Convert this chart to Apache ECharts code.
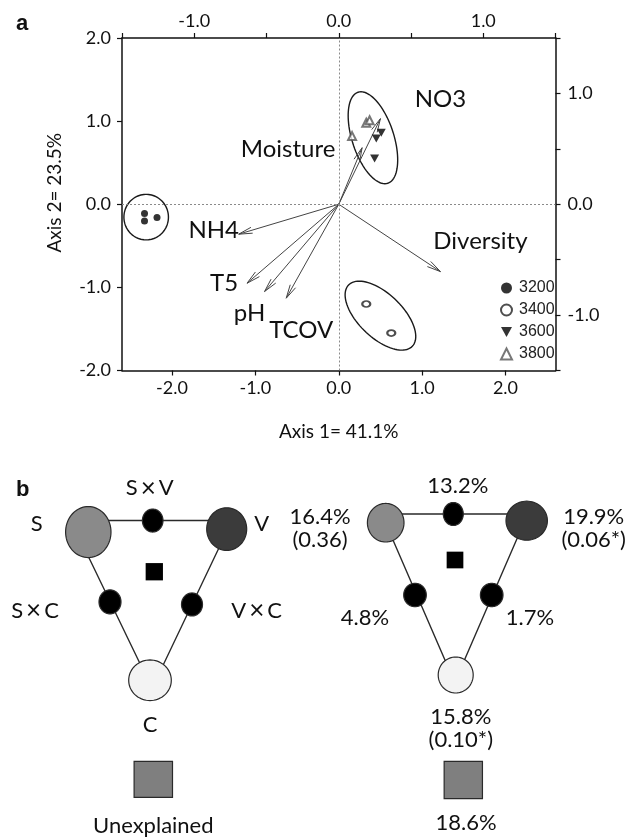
<!DOCTYPE html>
<html><head><meta charset="utf-8">
<script src="https://cdn.jsdelivr.net/npm/echarts@6/dist/echarts.min.js"></script>
<style>html,body{margin:0;padding:0;background:#fff}#c{width:635px;height:838px}</style>
</head><body><div id="c"></div>
<script>
// ---------------- data: panel a ----------------
const siteNames = ['3200', '3400', '3600', '3800'];
const pts3200 = [[-2.33, -0.11], [-2.33, -0.20], [-2.18, -0.16]];
const pts3400 = [[0.33, -1.20], [0.63, -1.55]];
const pts3600 = [[0.51, 0.86], [0.45, 0.79], [0.43, 0.55]];
const pts3800 = [[0.16, 0.82], [0.33, 0.98], [0.37, 1.01]];
const vectorNames = ['NO3', 'Moisture', 'NH4', 'T5', 'pH', 'TCOV', 'Diversity'];
const vectorEnds = [[0.50, 1.03], [0.28, 0.68], [-1.20, -0.36], [-1.10, -0.95], [-0.89, -1.05], [-0.63, -1.13], [1.22, -0.81]];
const ellipseCenters = [[-2.31, -0.155], [0.41, 0.80], [0.50, -1.34]];
const ellipseSemiAxes = [[0.267, 0.274], [0.576, 0.25], [0.531, 0.264]];
const ellipseAngles = [0, 108, -44];
const axis1Ticks = [-2, -1, 0, 1, 2];
const axis1Title = 'Axis 1= 41.1%';
const axis2Title = 'Axis 2= 23.5%';

// ---------------- data: panel b ----------------
const componentNames = ['S', 'V', 'C'];
const interactionNames = [['S', 'V'], ['S', 'C'], ['V', 'C']];
const componentPct = ['16.4%', '19.9%', '15.8%'];
const componentP = ['(0.36)', '(0.06*)', '(0.10*)'];
const interactionPct = ['13.2%', '4.8%', '1.7%'];
const unexplainedName = 'Unexplained';
const unexplainedPct = '18.6%';

// ---------------- layout / style (not data) ----------------
const FONT = 'Lato, "Open Sans", sans-serif';
const vectorLabelOffsets = [[60, -19], [-74, 2], [-25, -4], [-23, 0], [-15, 22], [15, 32], [40, -30]];
const diagramLayouts = [
  { // left (names)
    tri: [[-82, 0], [79, 0], [-1, 169.3]],
    big: [[-64.7, 11.6, 22.7, 25.5], [73.7, 8.6, 20, 21.3], [-3, 161, 21.3, 20.3]],
    dots: [[-0.3, 0, 10.3, 11.5], [-43, 82, 11, 12], [39, 84.6, 10.5, 11.5]],
    sq: [1.3, 51.6, 17.3],
    un: [0.3, 261, 38.4, 36],
    compLab: [[-116.3, 3.3], [108.7, 3.3], [-3, 206]],
    interLab: [[-3.2, -32.4], [-118, 91], [103.7, 91]],
    unLab: [0.3, 307.6]
  },
  { // right (values)
    tri: [[-73.3, 0], [72.7, 0], [-0.3, 168.6]],
    big: [[-69.3, 8.7, 18.3, 19.3], [71.7, 6.7, 20.7, 19.5], [0.7, 161, 17.5, 18]],
    dots: [[-1.7, 0, 10, 11.5], [-40, 81, 11.3, 11.7], [36.7, 81, 11.3, 11.7]],
    sq: [0, 46, 16.7],
    un: [8.3, 266, 38.3, 37.3],
    compLab: [[-135, 14], [138.7, 14], [5.8, 214.7]],
    interLab: [[2.9, -28], [-90, 104.3], [75, 104.3]],
    unLab: [11, 308.7]
  }
];
const bigFills = ['#8a8a8a', '#3b3b3b', '#f3f3f3'];

function ellipsePoly(cx, cy, rx, ry, n) {
  const pts = [];
  for (let k = 0; k < n; k++) {
    const t = 2 * Math.PI * k / n;
    pts.push([cx + rx * Math.cos(t), cy + ry * Math.sin(t)]);
  }
  return pts;
}

function renderEllipse(params, api) {
  const cx = api.value(0), cy = api.value(1), a = api.value(2), b = api.value(3);
  const ang = api.value(4) * Math.PI / 180;
  const pts = [];
  for (let k = 0; k < 90; k++) {
    const t = 2 * Math.PI * k / 90;
    const ex = a * Math.cos(t), ey = b * Math.sin(t);
    pts.push(api.coord([cx + ex * Math.cos(ang) - ey * Math.sin(ang), cy + ex * Math.sin(ang) + ey * Math.cos(ang)]));
  }
  return { type: 'polygon', shape: { points: pts }, style: { fill: null, stroke: '#1a1a1a', lineWidth: 1.4 } };
}

function renderArrow(params, api) {
  const i = params.dataIndex;
  const o = api.coord([0, 0]);
  const t = api.coord([api.value(0), api.value(1)]);
  const ang = Math.atan2(t[1] - o[1], t[0] - o[0]);
  const L = 14, h = 0.22;
  const p1 = [t[0] - L * Math.cos(ang - h), t[1] - L * Math.sin(ang - h)];
  const p2 = [t[0] - L * Math.cos(ang + h), t[1] - L * Math.sin(ang + h)];
  const off = vectorLabelOffsets[i];
  return {
    type: 'group', children: [
      { type: 'line', shape: { x1: o[0], y1: o[1], x2: t[0], y2: t[1] }, style: { stroke: '#444', lineWidth: 1 } },
      { type: 'polyline', shape: { points: [p1, t, p2] }, style: { stroke: '#444', lineWidth: 1, fill: null } },
      { type: 'text', x: t[0] + off[0], y: t[1] + off[1], style: { text: vectorNames[i], fontFamily: FONT, fontSize: 24, fill: '#111', align: 'center', verticalAlign: 'middle' } }
    ]
  };
}

function diagramRenderer(idx) {
  const L = diagramLayouts[idx];
  return function (params, api) {
    const C = p => api.coord(p);
    const ch = [];
    ch.push({ type: 'polygon', shape: { points: L.tri.map(C) }, style: { fill: null, stroke: '#2a2a2a', lineWidth: 1.4 } });
    const ellipse = (e, fill) => {
      const c = C([e[0], e[1]]);
      return { type: 'polygon', shape: { points: ellipsePoly(c[0], c[1], e[2], e[3], 72) }, style: { fill: fill, stroke: '#2a2a2a', lineWidth: 1.2 } };
    };
    L.big.forEach((e, k) => ch.push(ellipse(e, bigFills[k])));
    L.dots.forEach(e => ch.push(ellipse(e, '#000')));
    const sc = C([L.sq[0], L.sq[1]]);
    ch.push({ type: 'rect', shape: { x: sc[0] - L.sq[2] / 2, y: sc[1] - L.sq[2] / 2, width: L.sq[2], height: L.sq[2] }, style: { fill: '#000' } });
    const uc = C([L.un[0], L.un[1]]);
    ch.push({ type: 'rect', shape: { x: uc[0] - L.un[2] / 2, y: uc[1] - L.un[3] / 2, width: L.un[2], height: L.un[3] }, style: { fill: '#7f7f7f', stroke: '#2a2a2a', lineWidth: 1.2 } });
    const txt = (pos, s, rich) => {
      const c = C(pos);
      const st = { text: s, fontFamily: FONT, fontSize: 22, fill: '#111', align: 'center', verticalAlign: 'middle', lineHeight: 23 };
      if (rich) st.rich = rich;
      return { type: 'text', x: c[0], y: c[1], style: st };
    };
    const richX = { t: { fontFamily: FONT, fontSize: 22, fill: '#111' }, m: { fontFamily: FONT, fontSize: 26, fill: '#111', padding: [0, 3] } };
    if (idx === 0) {
      componentNames.forEach((n, k) => ch.push(txt(L.compLab[k], n)));
      interactionNames.forEach((n, k) => ch.push(txt(L.interLab[k], '{t|' + n[0] + '}{m|×}{t|' + n[1] + '}', richX)));
      ch.push(txt(L.unLab, unexplainedName));
    } else {
      componentPct.forEach((n, k) => ch.push(txt(L.compLab[k], n + '\n' + componentP[k])));
      interactionPct.forEach((n, k) => ch.push(txt(L.interLab[k], n)));
      ch.push(txt(L.unLab, unexplainedPct));
    }
    return { type: 'group', children: ch };
  };
}

const axisLineStyle = { show: true, onZero: false, lineStyle: { color: '#111', width: 1.5 } };
const tickStyle = { show: true, inside: false, length: 5, lineStyle: { color: '#111', width: 1.2 } };
const labelBase = { fontFamily: FONT, fontSize: 18, color: '#111' };
const halfLabel = v => (Math.abs(v - Math.round(v)) < 1e-9 ? v.toFixed(1) : '');

const chart = echarts.init(document.getElementById('c'), null, { renderer: 'canvas' });
chart.setOption({
  animation: false,
  backgroundColor: '#fff',
  title: [
    { text: 'a', left: 11, top: 8, textStyle: { fontFamily: 'Liberation Sans, Arial', fontWeight: 'bold', fontSize: 22, color: '#111' } },
    { text: 'b', left: 11, top: 474, textStyle: { fontFamily: 'Liberation Sans, Arial', fontWeight: 'bold', fontSize: 22, color: '#111' } }
  ],
  grid: [
    { left: 122, right: 79.5, top: 38, bottom: 467.5 },
    { left: 43, top: 500.7, width: 220, height: 340 },
    { left: 345, top: 494, width: 220, height: 340 }
  ],
  xAxis: [
    { type: 'value', gridIndex: 0, position: 'bottom', min: -2.6, max: 2.6,
      axisLine: axisLineStyle, axisTick: Object.assign({ customValues: axis1Ticks }, tickStyle),
      axisLabel: Object.assign({ customValues: axis1Ticks, margin: 9, formatter: v => v.toFixed(1) }, labelBase),
      splitLine: { show: false },
      name: axis1Title, nameLocation: 'middle', nameGap: 52, nameTextStyle: { fontFamily: FONT, fontSize: 19, color: '#111' } },
    { type: 'value', gridIndex: 0, position: 'top', min: -1.5, max: 1.5, interval: 0.5,
      axisLine: axisLineStyle, axisTick: tickStyle,
      axisLabel: Object.assign({ margin: 8, formatter: halfLabel, showMinLabel: true, showMaxLabel: true }, labelBase),
      splitLine: { show: false } },
    { type: 'value', gridIndex: 1, min: -110, max: 110, show: false },
    { type: 'value', gridIndex: 2, min: -110, max: 110, show: false }
  ],
  yAxis: [
    { type: 'value', gridIndex: 0, position: 'left', min: -2, max: 2, interval: 1,
      axisLine: axisLineStyle, axisTick: tickStyle,
      axisLabel: Object.assign({ margin: 11, formatter: v => v.toFixed(1) }, labelBase),
      splitLine: { show: false },
      name: axis2Title, nameLocation: 'middle', nameGap: 58, nameRotate: 90,
      nameTextStyle: { fontFamily: FONT, fontSize: 19, color: '#111', padding: [0, 0, 0, 23] } },
    { type: 'value', gridIndex: 0, position: 'right', min: -1.5, max: 1.5, interval: 0.5,
      axisLine: axisLineStyle, axisTick: tickStyle,
      axisLabel: Object.assign({ margin: 12, formatter: halfLabel }, labelBase),
      splitLine: { show: false } },
    { type: 'value', gridIndex: 1, min: -20, max: 320, inverse: true, show: false },
    { type: 'value', gridIndex: 2, min: -20, max: 320, inverse: true, show: false }
  ],
  legend: {
    orient: 'vertical', left: 495, top: 275, itemWidth: 11, itemHeight: 11, itemGap: 6,
    selectedMode: false, data: siteNames,
    textStyle: { fontFamily: 'Liberation Sans, Arial', fontSize: 16, color: '#222', lineHeight: 15, padding: [0, 0, 0, 2] }
  },
  series: [
    { type: 'custom', name: 'refs', xAxisIndex: 0, yAxisIndex: 0, data: [], silent: true, z: 1,
      renderItem: () => null,
      markLine: { silent: true, symbol: 'none', label: { show: false }, animation: false,
        lineStyle: { type: [2, 2], color: '#8a8a8a', width: 1 },
        data: [{ xAxis: 0 }, { yAxis: 0 }] } },
    { type: 'custom', name: 'ellipses', xAxisIndex: 0, yAxisIndex: 0, z: 2, silent: true,
      data: ellipseCenters.map((c, k) => [c[0], c[1], ellipseSemiAxes[k][0], ellipseSemiAxes[k][1], ellipseAngles[k]]),
      renderItem: renderEllipse },
    { type: 'custom', name: 'vectors', xAxisIndex: 0, yAxisIndex: 0, z: 3, silent: true,
      data: vectorEnds, encode: { x: 0, y: 1 }, renderItem: renderArrow },
    { type: 'scatter', name: siteNames[0], xAxisIndex: 0, yAxisIndex: 0, z: 4, data: pts3200,
      symbol: 'circle', symbolSize: 7, itemStyle: { color: '#000' } },
    { type: 'scatter', name: siteNames[1], xAxisIndex: 0, yAxisIndex: 0, z: 4, data: pts3400,
      symbol: 'emptyCircle', symbolSize: [8, 6], itemStyle: { color: '#222', borderWidth: 1.2 } },
    { type: 'scatter', name: siteNames[2], xAxisIndex: 0, yAxisIndex: 0, z: 4, data: pts3600,
      symbol: 'path://M0,0L10,0L5,9Z', symbolSize: [9, 8], itemStyle: { color: '#000' } },
    { type: 'scatter', name: siteNames[3], xAxisIndex: 0, yAxisIndex: 0, z: 4, data: pts3800,
      symbol: 'emptyTriangle', symbolSize: 8, itemStyle: { color: '#555', borderWidth: 1 } },
    { type: 'custom', name: 'diagramLeft', xAxisIndex: 2, yAxisIndex: 2, silent: true, data: [[0, 0]], renderItem: diagramRenderer(0) },
    { type: 'custom', name: 'diagramRight', xAxisIndex: 3, yAxisIndex: 3, silent: true, data: [[0, 0]], renderItem: diagramRenderer(1) }
  ]
});
</script></body></html>
